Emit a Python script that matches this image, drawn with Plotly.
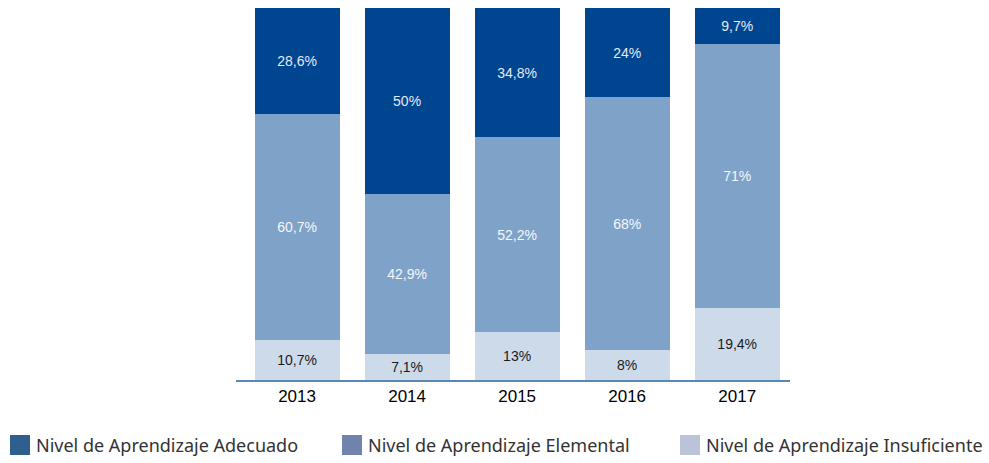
import plotly.graph_objects as go

years = ["2013", "2014", "2015", "2016", "2017"]
insuficiente = [10.7, 7.1, 13, 8, 19.4]
elemental = [60.7, 42.9, 52.2, 68, 71]
adecuado = [28.6, 50, 34.8, 24, 9.7]

labels_insuf = ["10,7%", "7,1%", "13%", "8%", "19,4%"]
labels_elem = ["60,7%", "42,9%", "52,2%", "68%", "71%"]
labels_adec = ["28,6%", "50%", "34,8%", "24%", "9,7%"]

legend_names = ["Nivel de Aprendizaje Adecuado", "Nivel de Aprendizaje Elemental",
                "Nivel de Aprendizaje Insuficiente"]
legend_colors = ["#2f5f8f", "#7083ad", "#bcc3d9"]

bar_colors = ["#cddaea", "#7fa3c8", "#004590"]

fig = go.Figure()
for vals, labs, col, tcol in [
    (insuficiente, labels_insuf, bar_colors[0], "#1a1a1a"),
    (elemental, labels_elem, bar_colors[1], "#f4f6fa"),
    (adecuado, labels_adec, bar_colors[2], "#e4e9f2"),
]:
    fig.add_trace(go.Bar(
        x=years, y=vals, text=labs, textposition="inside",
        insidetextanchor="middle", textangle=0,
        textfont=dict(family="Arial", size=14, color=tcol),
        marker=dict(color=col, line=dict(width=0)),
        showlegend=False, hoverinfo="skip",
    ))

fig.update_layout(
    barmode="stack", bargap=0.227,
    width=989, height=463,
    margin=dict(l=236, r=199, t=8, b=83),
    paper_bgcolor="white", plot_bgcolor="white",
    xaxis=dict(range=[-0.555, 4.48], showgrid=False, showline=True,
               linecolor="#5b87b5", linewidth=2, ticks="", ticklen=0,
               tickfont=dict(family="Arial", size=17, color="black")),
    yaxis=dict(range=[0, 100], visible=False),
    uniformtext=dict(minsize=8, mode="show"),
)

# custom legend
xs = [10, 342, 680]
for name, col, x0 in zip(legend_names, legend_colors, xs):
    fig.add_shape(type="rect", xref="paper", yref="paper",
                  x0=(x0 - 236) / 554, x1=(x0 + 20 - 236) / 554,
                  y0=-(455 - 380) / 372, y1=-(435 - 380) / 372,
                  fillcolor=col, line=dict(width=0))
    fig.add_annotation(xref="paper", yref="paper",
                       x=(x0 + 24 - 236) / 554, y=-(445 - 380) / 372,
                       xanchor="left", yanchor="middle", showarrow=False,
                       text=name,
                       font=dict(family="Noto Sans", size=18, color="#333333"))

fig.write_html("out.html", config={"displayModeBar": False},
               post_script="document.body.style.margin='0px';")
